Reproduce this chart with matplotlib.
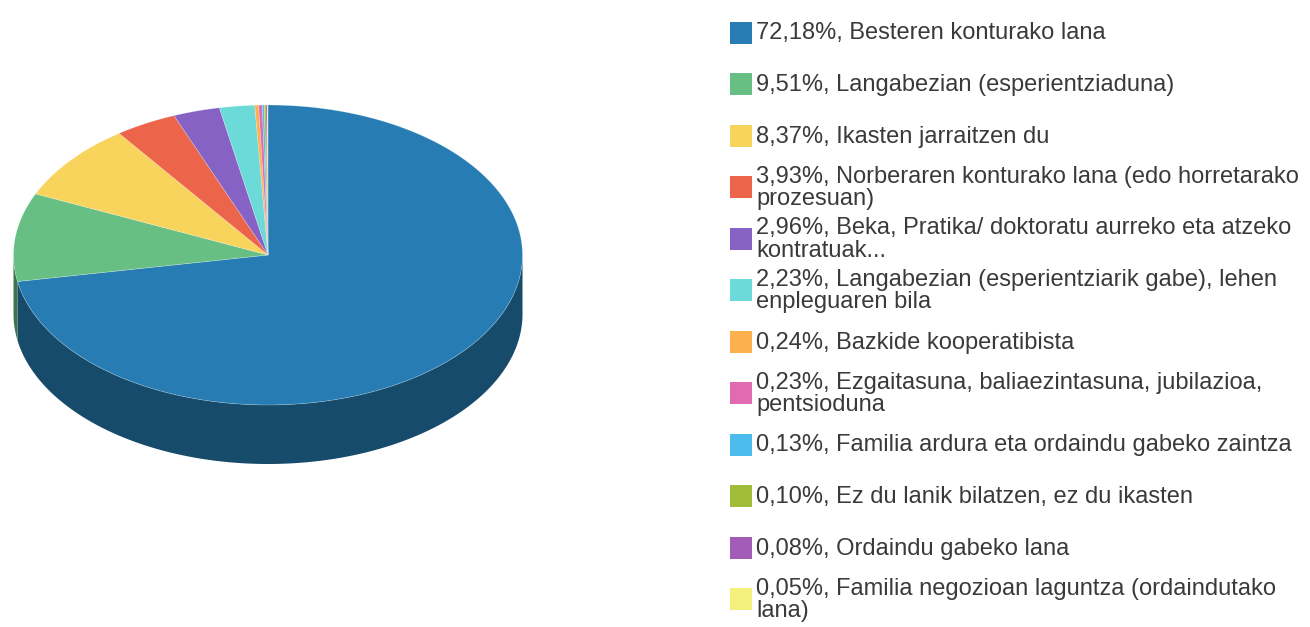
import numpy as np
import matplotlib
matplotlib.use("Agg")
import matplotlib.pyplot as plt

# data
labels = [
    "Besteren konturako lana",
    "Langabezian (esperientziaduna)",
    "Ikasten jarraitzen du",
    "Norberaren konturako lana (edo horretarako\nprozesuan)",
    "Beka, Pratika/ doktoratu aurreko eta atzeko\nkontratuak...",
    "Langabezian (esperientziarik gabe), lehen\nenpleguaren bila",
    "Bazkide kooperatibista",
    "Ezgaitasuna, baliaezintasuna, jubilazioa,\npentsioduna",
    "Familia ardura eta ordaindu gabeko zaintza",
    "Ez du lanik bilatzen, ez du ikasten",
    "Ordaindu gabeko lana",
    "Familia negozioan laguntza (ordaindutako\nlana)",
]
values = [72.18, 9.51, 8.37, 3.93, 2.96, 2.23, 0.24, 0.23, 0.13, 0.10, 0.08, 0.05]
colors = ["#277db3", "#67bf83", "#f8d45c", "#ec6449", "#8562c4", "#6cdad9",
          "#fdb04e", "#e06bb0", "#4bbced", "#a0bd3a", "#a35bb8", "#f5f07b"]

W, H = 1310, 627
cx, cy = 268, 255
rx, ry = 254.5, 150
depth = 59

fig = plt.figure(figsize=(W / 100, H / 100), dpi=100)
ax = fig.add_axes([0, 0, 1, 1])
ax.set_xlim(0, W)
ax.set_ylim(H, 0)
ax.axis("off")


def darker(c, f=0.6):
    r, g, b = matplotlib.colors.to_rgb(c)
    return (r * f, g * f, b * f)


def arc(a0, a1, dy=0.0, n=200):
    t = np.radians(np.linspace(a0, a1, n))
    return cx + rx * np.sin(t), cy - ry * np.cos(t) + dy


total = sum(values)
ends = np.cumsum(values) / total * 360
starts = np.concatenate([[0], ends[:-1]])

# side walls (only front half is visible)
for s, e, c in zip(starts, ends, colors):
    a0, a1 = max(s, 90), min(e, 270)
    if a1 <= a0:
        continue
    xt, yt = arc(a0, a1)
    xb, yb = arc(a0, a1, depth)
    ax.fill(np.concatenate([xt, xb[::-1]]), np.concatenate([yt, yb[::-1]]),
            color=darker(c), lw=0)

# top faces
for s, e, c in zip(starts, ends, colors):
    xs, ys = arc(s, e)
    ax.fill(np.concatenate([[cx], xs]), np.concatenate([[cy], ys]),
            facecolor=c, edgecolor=(1, 1, 1, 0.3), lw=0.5)

# legend
y0, step = 32.5, 51.5
for i, (lab, v, c) in enumerate(zip(labels, values, colors)):
    y = y0 + i * step
    ax.add_patch(plt.Rectangle((730, y - 11), 22, 22, color=c, lw=0))
    txt = f"{v:.2f}".replace(".", ",") + "%, " + lab
    ax.text(756, y + 1, txt, fontsize=17, family="Liberation Sans",
            color="#3a3a3a", va="center", ha="left", linespacing=1.02)

fig.savefig("out.png", dpi=100)
